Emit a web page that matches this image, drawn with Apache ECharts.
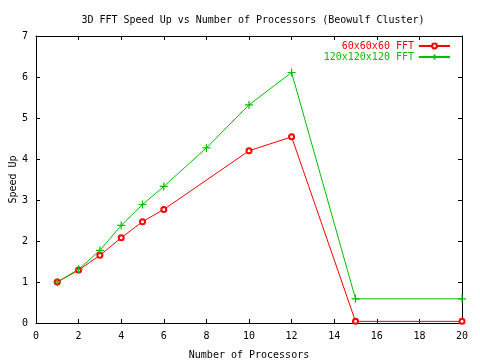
<!DOCTYPE html>
<html><head><meta charset="utf-8">
<script src="https://cdn.jsdelivr.net/npm/echarts@6/dist/echarts.min.js"></script>
<style>html,body{margin:0;padding:0;background:#fff}#c{width:480px;height:360px}</style>
</head><body><div id="c"></div>
<script>
const titleText = '3D FFT Speed Up vs Number of Processors (Beowulf Cluster)';
const xName = 'Number of Processors';
const yName = 'Speed Up';
const redName = '60x60x60 FFT';
const greenName = '120x120x120 FFT';
const redX = [1, 2, 3, 4, 5, 6, 10, 12, 15, 20];
const redY = [1.0, 1.29, 1.65, 2.08, 2.47, 2.77, 4.2, 4.54, 0.04, 0.04];
const greenX = [1, 2, 3, 4, 5, 6, 8, 10, 12, 15, 20];
const greenY = [1.0, 1.31, 1.77, 2.38, 2.89, 3.33, 4.27, 5.32, 6.11, 0.59, 0.59];

const font = 'DejaVu Sans Mono';
const fs = 10;
const RED = '#ff0000', GREEN = '#00c000';
const pairs = (xs, ys) => xs.map((x, i) => [x, ys[i]]);

const axisCommon = {
  axisLine: {show: true, onZero: false, lineStyle: {color: '#000', width: 1}},
  axisTick: {show: true, inside: true, length: 4, lineStyle: {color: '#000'}},
  splitLine: {show: false},
  axisLabel: {color: '#000', fontFamily: font, fontSize: fs}
};

const chart = echarts.init(document.getElementById('c'));
chart.setOption({
  animation: false,
  backgroundColor: '#fff',
  title: {text: titleText, left: 248, top: 10, textAlign: 'center',
    textStyle: {fontFamily: font, fontSize: fs, fontWeight: 'normal', color: '#000'}},
  legend: {orient: 'vertical', right: 24, top: 36, align: 'right', itemWidth: 31, itemHeight: 6, itemGap: 1,
    textStyle: {fontFamily: font, fontSize: fs},
    data: [{name: redName, textStyle: {color: RED}}, {name: greenName, textStyle: {color: GREEN}}]},
  grid: {left: 36, right: 18, top: 36, bottom: 37, containLabel: false, outerBoundsMode: 'none'},
  xAxis: [
    Object.assign({}, axisCommon, {type: 'value', min: 0, max: 20, interval: 2, position: 'bottom',
      name: xName, nameLocation: 'middle', nameGap: 27, nameMoveOverlap: false,
      nameTextStyle: {fontFamily: font, fontSize: fs, color: '#000'},
      axisLabel: Object.assign({}, axisCommon.axisLabel, {margin: 8})}),
    Object.assign({}, axisCommon, {type: 'value', min: 0, max: 20, interval: 2, position: 'top',
      axisLabel: {show: false}})
  ],
  yAxis: [
    Object.assign({}, axisCommon, {type: 'value', min: 0, max: 7, interval: 1, position: 'left',
      name: yName, nameLocation: 'middle', nameGap: 18, nameRotate: 90, nameMoveOverlap: false,
      nameTextStyle: {fontFamily: font, fontSize: fs, color: '#000'},
      axisLabel: Object.assign({}, axisCommon.axisLabel, {margin: 8})}),
    Object.assign({}, axisCommon, {type: 'value', min: 0, max: 7, interval: 1, position: 'right',
      axisLabel: {show: false}})
  ],
  series: [
    {name: redName, type: 'line', xAxisIndex: 0, yAxisIndex: 0, data: pairs(redX, redY),
      symbol: 'emptyCircle', symbolSize: 5,
      lineStyle: {color: RED, width: 1}, itemStyle: {color: RED, borderColor: RED, borderWidth: 1}},
    {name: greenName, type: 'line', xAxisIndex: 0, yAxisIndex: 0, data: pairs(greenX, greenY),
      symbol: 'path://M5,0L5,10M0,5L10,5', symbolSize: 8,
      lineStyle: {color: GREEN, width: 1}, itemStyle: {color: GREEN, borderColor: GREEN, borderWidth: 1.2}}
  ]
});
</script></body></html>
